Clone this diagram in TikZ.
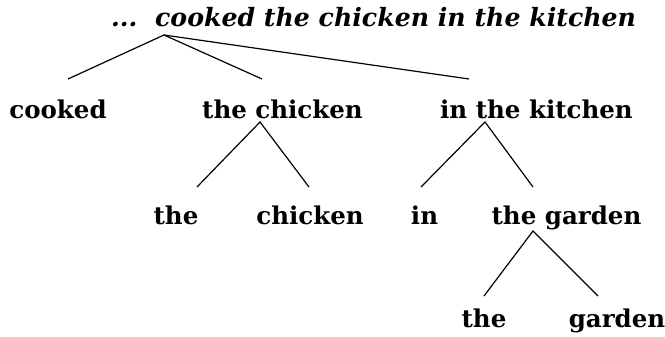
\documentclass[tikz,border=0pt]{standalone}
\usepackage{fontspec}
\setmainfont{DejaVu Serif}
\begin{document}
\begin{tikzpicture}[x=1pt,y=-1pt,
  word/.style={inner sep=0pt,anchor=base,font=\fontsize{24.5}{28}\selectfont\bfseries},
  topword/.style={inner sep=0pt,anchor=base west,font=\fontsize{25.2}{28}\selectfont\bfseries\itshape},
  branch/.style={line width=1.2pt,black}]
\useasboundingbox[fill=white] (0,0) rectangle (665,337);
% texts
\node[topword] (top) at (111,27) {...\hspace{0.7em}cooked the chicken in the kitchen};
\node[word] (cooked) at (58,118) {cooked};
\node[word] (thechicken) at (282.5,118) {the chicken};
\node[word] (inthekitchen) at (536.5,118) {in the kitchen};
\node[word] (the1) at (176,224) {the};
\node[word] (chicken) at (310,224) {chicken};
\node[word] (in) at (424.5,224) {in};
\node[word] (thegarden) at (566.5,224) {the garden};
\node[word] (the2) at (484,327) {the};
\node[word] (garden) at (617,327) {garden};
% branch points
\coordinate (a0) at (164,35);
\coordinate (b0l) at (68,79);
\coordinate (b0m) at (262,79);
\coordinate (b0r) at (469,79);
\coordinate (a1) at (260,122);
\coordinate (b1l) at (197,187);
\coordinate (b1r) at (309,187);
\coordinate (a2) at (485,122);
\coordinate (b2l) at (421,187);
\coordinate (b2r) at (533,187);
\coordinate (a3) at (533,231);
\coordinate (b3l) at (484,296);
\coordinate (b3r) at (598,296);
\draw[branch] (b0l) -- (a0) -- (b0m);
\draw[branch] (a0) -- (b0r);
\draw[branch] (b1l) -- (a1) -- (b1r);
\draw[branch] (b2l) -- (a2) -- (b2r);
\draw[branch] (b3l) -- (a3) -- (b3r);
\end{tikzpicture}
\end{document}
